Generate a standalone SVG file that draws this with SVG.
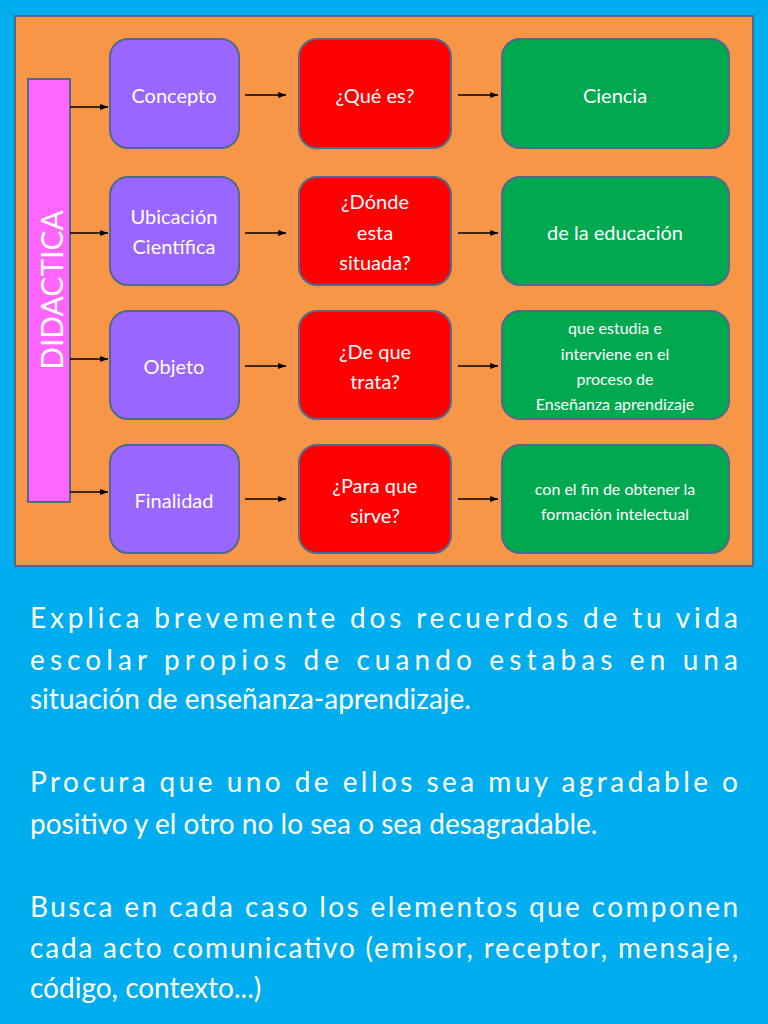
<svg xmlns="http://www.w3.org/2000/svg" width="768" height="1024" viewBox="0 0 768 1024">
<defs>
<style>
.p{fill:#9966FF;stroke:#4F6A8A;stroke-width:2}
.r{fill:#FF0000;stroke:#4F6A8A;stroke-width:2}
.g{fill:#00A94F;stroke:#4F6A8A;stroke-width:2}
.t{font-family:Lato,"Open Sans",sans-serif;font-size:20px;fill:#fff;text-anchor:middle}
.s{font-size:16px}
.b{font-family:Lato,"Open Sans",sans-serif;font-size:28px;fill:#fff}
.c line{stroke:#000;stroke-width:1.3;marker-end:url(#a)}
</style>
<marker id="a" viewBox="0 0 10 10" refX="10" refY="5" markerWidth="6" markerHeight="6" orient="auto"><path d="M0,1L10,5L0,9z" fill="#000"/></marker>
</defs>
<rect width="768" height="1024" fill="#00AEEF"/>
<rect x="15" y="16" width="738" height="550" fill="#F79646" stroke="#4F6A8A" stroke-width="2"/>
<g id="didactica"><rect x="28" y="79" width="42" height="423" fill="#FF66FF" stroke="#4F6A8A" stroke-width="2"/>
<text transform="translate(63,290) rotate(-90)" text-anchor="middle" style="font-family:Lato,'Open Sans',sans-serif;font-size:30px;fill:#fff">DIDACTICA</text></g>
<g class="c">
<line x1="70" y1="107" x2="108" y2="107"/><line x1="70" y1="233" x2="108" y2="233"/><line x1="70" y1="359" x2="108" y2="359"/><line x1="70" y1="492" x2="108" y2="492"/>
<line x1="245" y1="95" x2="286" y2="95"/><line x1="245" y1="233" x2="286" y2="233"/><line x1="245" y1="366" x2="286" y2="366"/><line x1="245" y1="499" x2="286" y2="499"/>
<line x1="458" y1="95" x2="498" y2="95"/><line x1="458" y1="233" x2="498" y2="233"/><line x1="458" y1="366" x2="498" y2="366"/><line x1="458" y1="499" x2="498" y2="499"/>
</g>
<g id="concepto"><rect class="p" x="110" y="39" width="129" height="109" rx="18"/><text class="t" x="174" y="103">Concepto</text></g>
<g id="ubicacion"><rect class="p" x="110" y="177" width="129" height="108" rx="18"/><text class="t" x="174" y="224">Ubicación</text><text class="t" x="174" y="254">Científica</text></g>
<g id="objeto"><rect class="p" x="110" y="311" width="129" height="108" rx="18"/><text class="t" x="174" y="374">Objeto</text></g>
<g id="finalidad"><rect class="p" x="110" y="445" width="129" height="108" rx="18"/><text class="t" x="174" y="508">Finalidad</text></g>
<g id="quees"><rect class="r" x="299" y="39" width="152" height="109" rx="18"/><text class="t" x="375" y="103">¿Qué es?</text></g>
<g id="donde"><rect class="r" x="299" y="177" width="152" height="108" rx="18"/><text class="t" x="375" y="209">¿Dónde</text><text class="t" x="375" y="240">esta</text><text class="t" x="375" y="270">situada?</text></g>
<g id="dequetrata"><rect class="r" x="299" y="311" width="152" height="108" rx="18"/><text class="t" x="375" y="359">¿De que</text><text class="t" x="375" y="389">trata?</text></g>
<g id="paraque"><rect class="r" x="299" y="445" width="152" height="108" rx="18"/><text class="t" x="375" y="493">¿Para que</text><text class="t" x="375" y="523">sirve?</text></g>
<g id="ciencia"><rect class="g" x="502" y="39" width="227" height="109" rx="18"/><text class="t" x="615" y="103">Ciencia</text></g>
<g id="educacion"><rect class="g" x="502" y="177" width="227" height="108" rx="18"/><text class="t" x="615" y="240">de la educación</text></g>
<g id="estudia"><rect class="g" x="502" y="311" width="227" height="108" rx="18"/><text class="t s" x="615" y="334">que estudia e</text><text class="t s" x="615" y="360">interviene en el</text><text class="t s" x="615" y="385">proceso de</text><text class="t s" x="615" y="410">Enseñanza aprendizaje</text></g>
<g id="fin"><rect class="g" x="502" y="445" width="227" height="108" rx="18"/><text class="t s" x="615" y="495">con el fin de obtener la</text><text class="t s" x="615" y="520">formación intelectual</text></g>
<text class="b" x="30" y="628" textLength="708" lengthAdjust="spacing">Explica brevemente dos recuerdos de tu vida</text>
<text class="b" x="30" y="670" textLength="708" lengthAdjust="spacing">escolar propios de cuando estabas en una</text>
<text class="b" x="30" y="709">situación de enseñanza-aprendizaje.</text>
<text class="b" x="30" y="792" textLength="708" lengthAdjust="spacing">Procura que uno de ellos sea muy agradable o</text>
<text class="b" x="30" y="834">positivo y el otro no lo sea o sea desagradable.</text>
<text class="b" x="30" y="917" textLength="708" lengthAdjust="spacing">Busca en cada caso los elementos que componen</text>
<text class="b" x="30" y="958" textLength="708" lengthAdjust="spacing">cada acto comunicativo (emisor, receptor, mensaje,</text>
<text class="b" x="30" y="998">código, contexto...)</text>
</svg>
